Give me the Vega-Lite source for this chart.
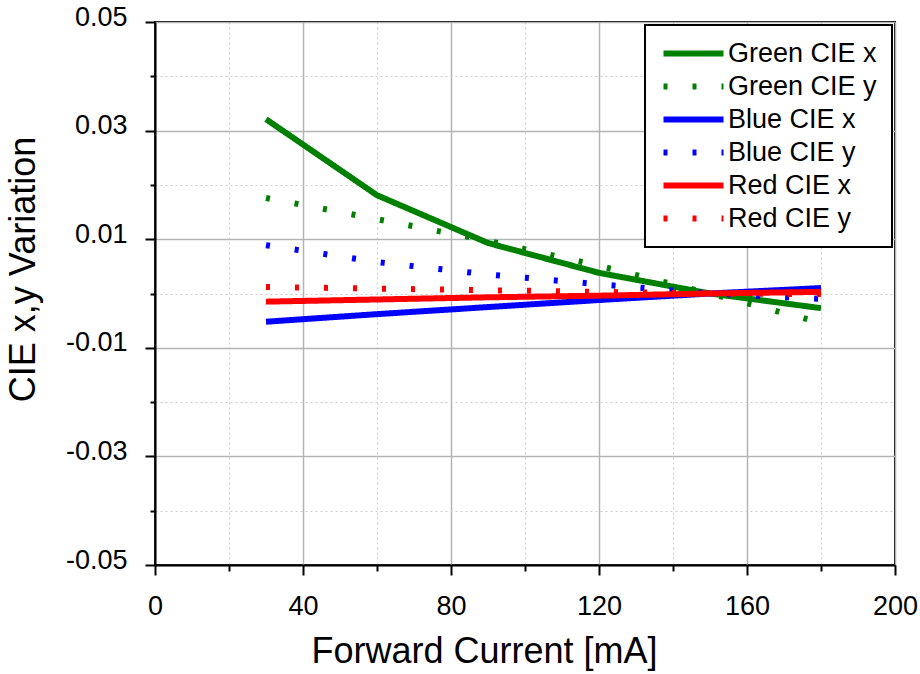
{
  "$schema": "https://vega.github.io/schema/vega-lite/v6.json",
  "width": 740,
  "height": 543,
  "autosize": {"type": "none"},
  "padding": {"left": 155, "top": 22, "right": 25, "bottom": 109},
  "background": "white",
  "config": {
    "font": "Liberation Sans",
    "view": {"stroke": "black", "strokeWidth": 2},
    "legend": {"strokeWidth": 2}
  },
  "data": {
    "values": [
      {"series": "Green CIE x", "current": 30, "variation": 0.0321},
      {"series": "Green CIE x", "current": 60, "variation": 0.0181},
      {"series": "Green CIE x", "current": 90, "variation": 0.0093},
      {"series": "Green CIE x", "current": 120, "variation": 0.0038},
      {"series": "Green CIE x", "current": 150, "variation": 0.0},
      {"series": "Green CIE x", "current": 180, "variation": -0.0027},
      {"series": "Green CIE y", "current": 30, "variation": 0.0176},
      {"series": "Green CIE y", "current": 60, "variation": 0.0137},
      {"series": "Green CIE y", "current": 90, "variation": 0.0097},
      {"series": "Green CIE y", "current": 120, "variation": 0.0051},
      {"series": "Green CIE y", "current": 150, "variation": 0.0},
      {"series": "Green CIE y", "current": 180, "variation": -0.0054},
      {"series": "Blue CIE x", "current": 30, "variation": -0.0052},
      {"series": "Blue CIE x", "current": 60, "variation": -0.0038},
      {"series": "Blue CIE x", "current": 90, "variation": -0.0025},
      {"series": "Blue CIE x", "current": 120, "variation": -0.0012},
      {"series": "Blue CIE x", "current": 150, "variation": 0.0},
      {"series": "Blue CIE x", "current": 180, "variation": 0.001},
      {"series": "Blue CIE y", "current": 30, "variation": 0.0089},
      {"series": "Blue CIE y", "current": 60, "variation": 0.0058},
      {"series": "Blue CIE y", "current": 90, "variation": 0.0035},
      {"series": "Blue CIE y", "current": 120, "variation": 0.0017},
      {"series": "Blue CIE y", "current": 150, "variation": 0.0},
      {"series": "Blue CIE y", "current": 180, "variation": -0.001},
      {"series": "Red CIE x", "current": 30, "variation": -0.0015},
      {"series": "Red CIE x", "current": 60, "variation": -0.0011},
      {"series": "Red CIE x", "current": 90, "variation": -0.0007},
      {"series": "Red CIE x", "current": 120, "variation": -0.0004},
      {"series": "Red CIE x", "current": 150, "variation": 0.0},
      {"series": "Red CIE x", "current": 180, "variation": 0.0003},
      {"series": "Red CIE y", "current": 30, "variation": 0.0012},
      {"series": "Red CIE y", "current": 60, "variation": 0.0009},
      {"series": "Red CIE y", "current": 90, "variation": 0.0006},
      {"series": "Red CIE y", "current": 120, "variation": 0.0003},
      {"series": "Red CIE y", "current": 150, "variation": 0.0},
      {"series": "Red CIE y", "current": 180, "variation": -0.0001}
    ]
  },
  "mark": {"type": "line", "strokeWidth": 6, "strokeCap": "butt", "strokeJoin": "miter"},
  "encoding": {
    "x": {
      "field": "current",
      "type": "quantitative",
      "scale": {"domain": [0, 200], "nice": false, "zero": false},
      "axis": {
        "values": [0, 20, 40, 60, 80, 100, 120, 140, 160, 180, 200],
        "labelExpr": "datum.value % 40 === 0 ? datum.label : ''",
        "labelFlush": false,
        "labelOverlap": false,
        "labelBound": false,
        "grid": true,
        "gridColor": {"condition": {"test": "datum.value % 40 === 0", "value": "#b4b4b4"}, "value": "#cccccc"},
        "gridDash": {"condition": {"test": "datum.value % 40 === 0", "value": [1, 0]}, "value": [2, 3]},
        "gridWidth": {"condition": {"test": "datum.value % 40 === 0", "value": 1.5}, "value": 1},
        "gridOpacity": 1,
        "tickSize": {"condition": {"test": "datum.value % 40 === 0", "value": 10}, "value": 6},
        "tickColor": "black",
        "tickWidth": 2,
        "domainColor": "black",
        "domainWidth": 2,
        "labelFontSize": 27,
        "labelColor": "black",
        "labelPadding": 18,
        "title": "Forward Current [mA]",
        "titleFontSize": 36,
        "titleFontWeight": "normal",
        "titleColor": "black",
        "titleX": 329,
        "titleY": 97,
        "titleBaseline": "alphabetic"
      }
    },
    "y": {
      "field": "variation",
      "type": "quantitative",
      "scale": {"domain": [-0.05, 0.05], "nice": false, "zero": false},
      "axis": {
        "values": [-0.05, -0.04, -0.03, -0.02, -0.01, 0, 0.01, 0.02, 0.03, 0.04, 0.05],
        "labelExpr": "abs(round(datum.value * 100)) % 2 === 1 ? replace(format(datum.value, '.2f'), '−', '-') : ''",
        "labelFlush": false,
        "labelOverlap": false,
        "labelBound": false,
        "labelOffset": -5,
        "grid": true,
        "gridColor": {"condition": {"test": "abs(round(datum.value * 100)) % 2 === 1", "value": "#b4b4b4"}, "value": "#cccccc"},
        "gridDash": {"condition": {"test": "abs(round(datum.value * 100)) % 2 === 1", "value": [1, 0]}, "value": [2, 3]},
        "gridWidth": {"condition": {"test": "abs(round(datum.value * 100)) % 2 === 1", "value": 1.5}, "value": 1},
        "gridOpacity": 1,
        "tickSize": {"condition": {"test": "abs(round(datum.value * 100)) % 2 === 1", "value": 10}, "value": 5},
        "tickColor": "black",
        "tickWidth": 2,
        "domainColor": "black",
        "domainWidth": 2,
        "labelFontSize": 27,
        "labelColor": "black",
        "labelPadding": 18,
        "title": "CIE x,y Variation",
        "titleFontSize": 36,
        "titleFontWeight": "normal",
        "titleColor": "black",
        "titleX": -121,
        "titleY": 247,
        "titleBaseline": "alphabetic"
      }
    },
    "color": {
      "field": "series",
      "type": "nominal",
      "scale": {
        "domain": ["Green CIE x", "Green CIE y", "Blue CIE x", "Blue CIE y", "Red CIE x", "Red CIE y"],
        "range": ["#008000", "#008000", "#0000ff", "#0000ff", "#ff0000", "#ff0000"]
      },
      "legend": {
        "title": null,
        "orient": "none",
        "legendX": 490,
        "legendY": 3,
        "fillColor": "white",
        "strokeColor": "black",
        "padding": 15,
        "symbolType": "M-1,0H5",
        "symbolSize": 400,
        "symbolStrokeWidth": 6,
        "labelOffset": 41,
        "labelFontSize": 27,
        "labelColor": "black",
        "rowPadding": 5,
        "labelLimit": 400
      }
    },
    "strokeDash": {
      "field": "series",
      "type": "nominal",
      "scale": {
        "domain": ["Green CIE x", "Green CIE y", "Blue CIE x", "Blue CIE y", "Red CIE x", "Red CIE y"],
        "range": [[1, 0], [4, 25], [1, 0], [4, 25], [1, 0], [4, 25]]
      },
      "legend": {
        "title": null,
        "orient": "none",
        "legendX": 490,
        "legendY": 3,
        "fillColor": "white",
        "strokeColor": "black",
        "padding": 15,
        "symbolType": "M-1,0H5",
        "symbolSize": 400,
        "symbolStrokeWidth": 6,
        "labelOffset": 41,
        "labelFontSize": 27,
        "labelColor": "black",
        "rowPadding": 5,
        "labelLimit": 400
      }
    }
  }
}
